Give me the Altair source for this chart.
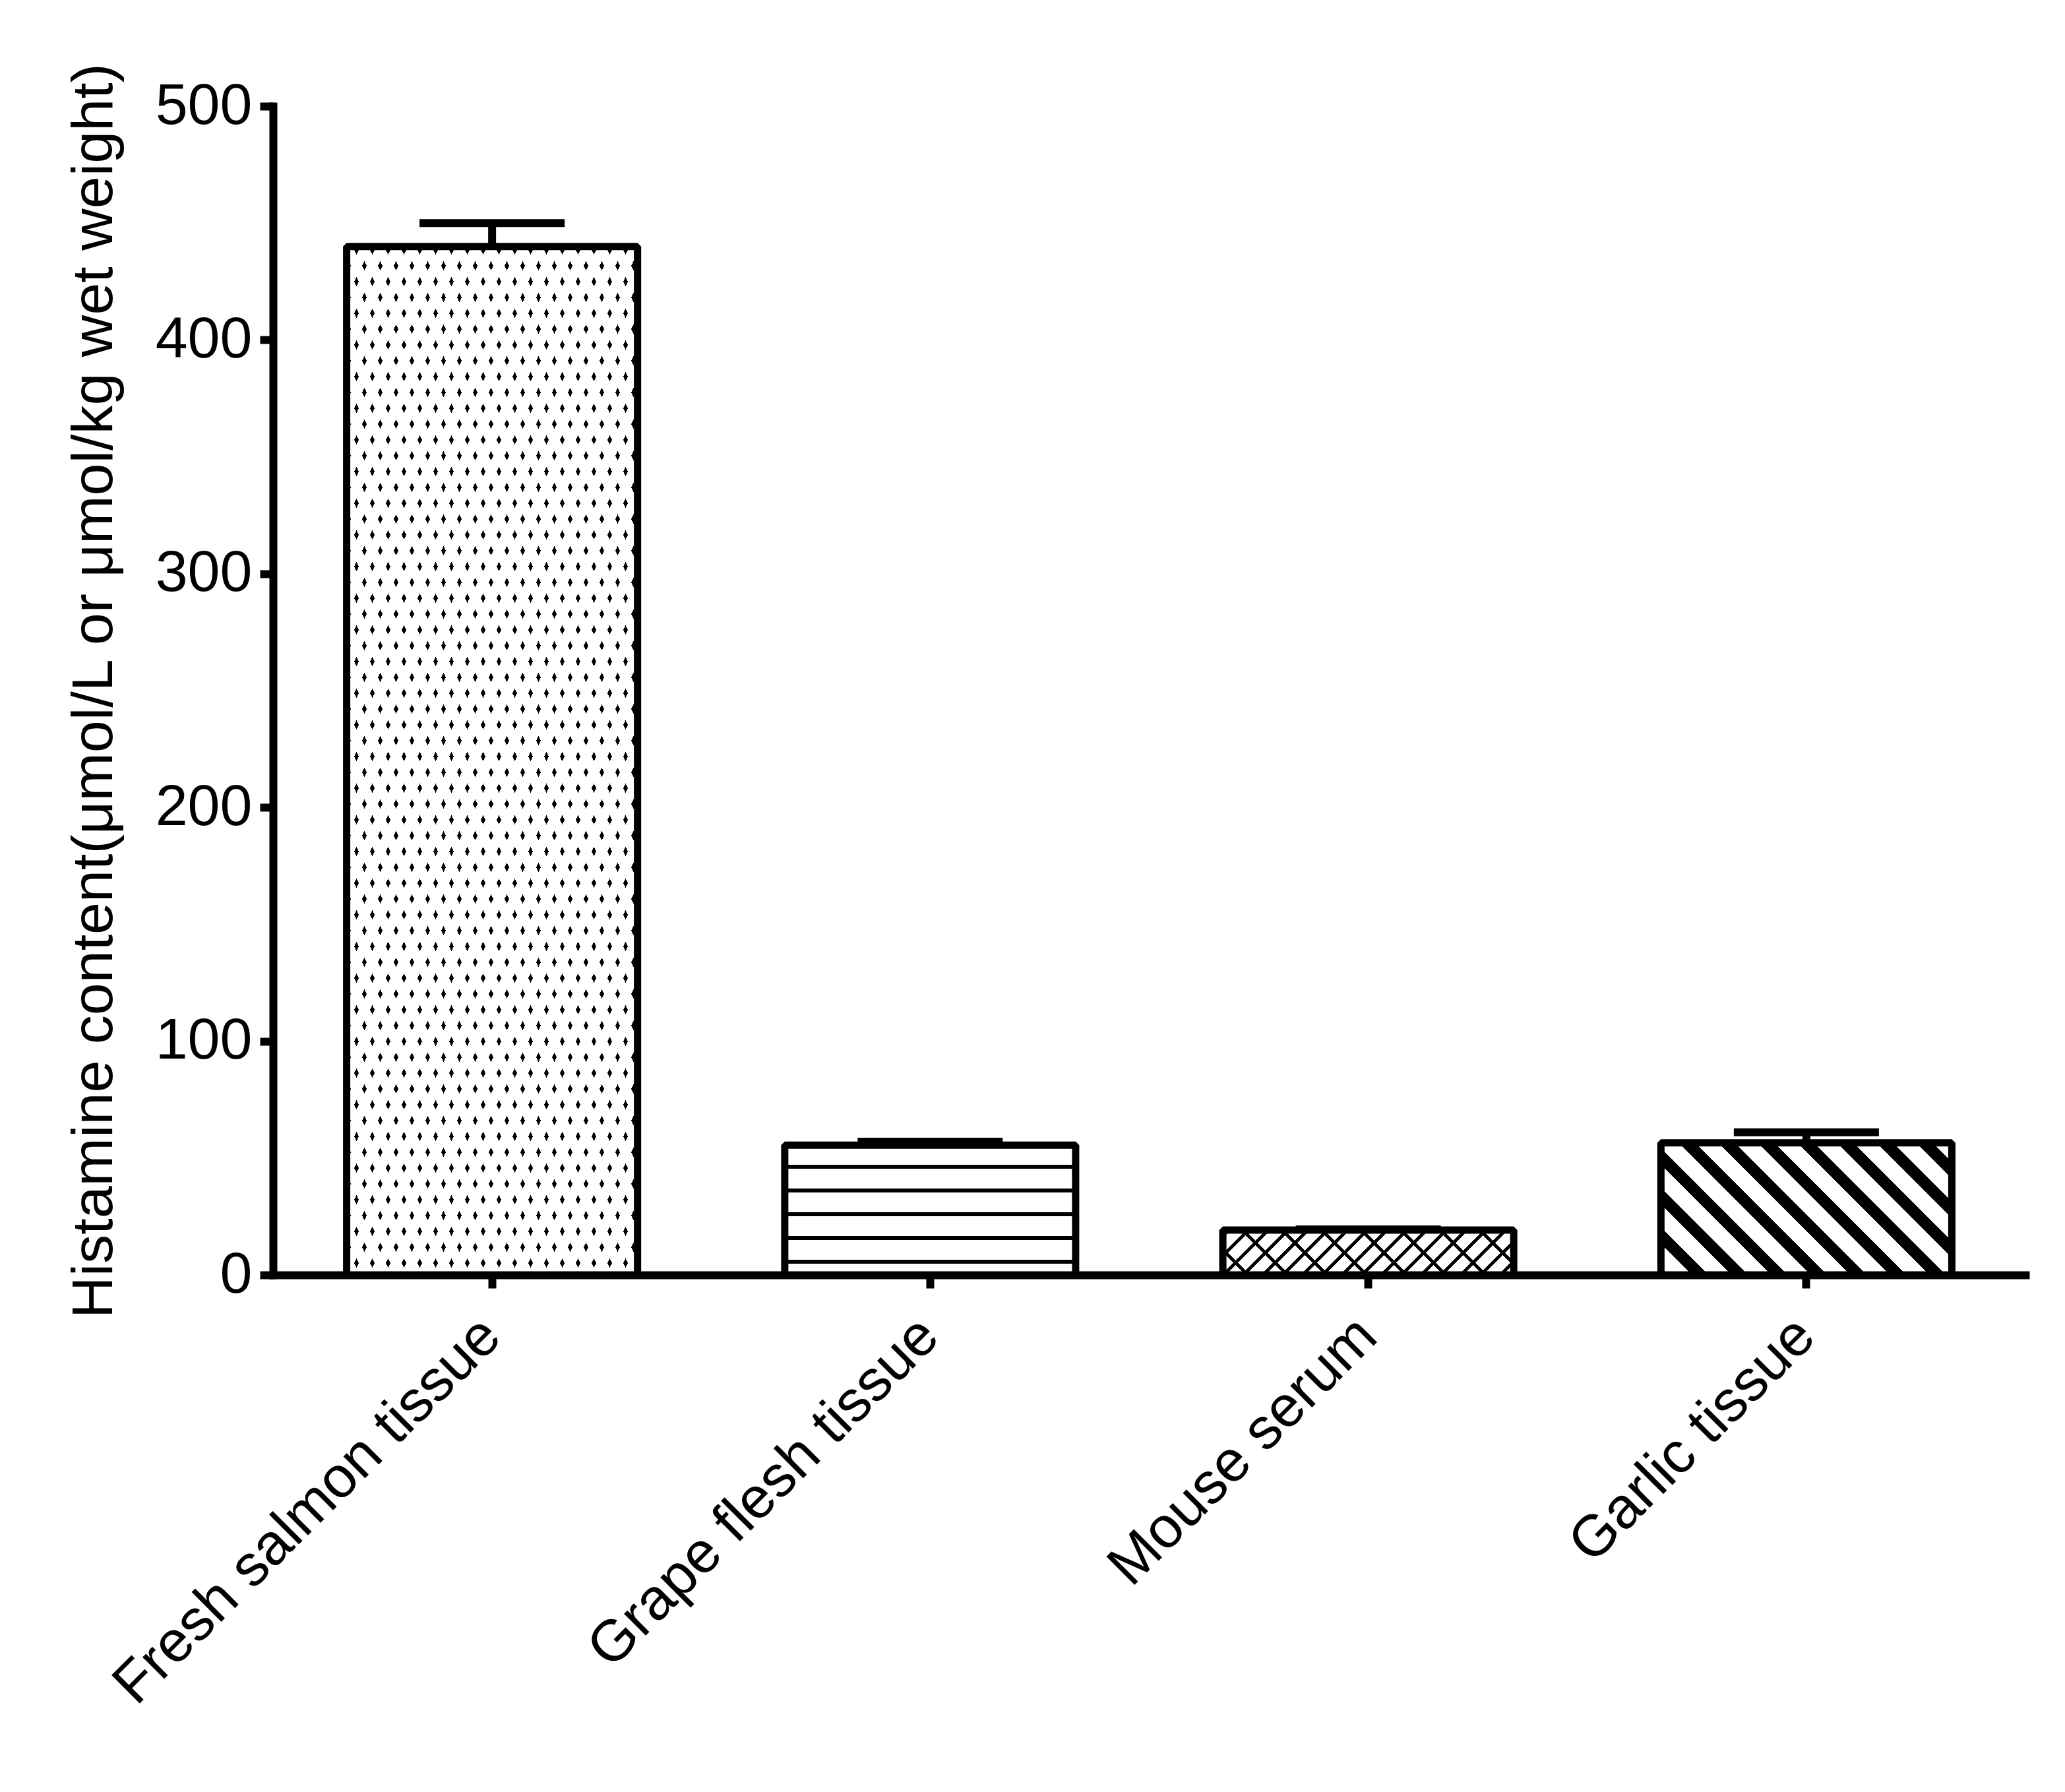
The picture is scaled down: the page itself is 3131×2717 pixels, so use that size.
import math
import altair as alt
import pandas as pd

categories = ["Fresh salmon tissue", "Grape flesh tissue", "Mouse serum", "Garlic tissue"]
means = [440, 55.5, 19.2, 56.5]
errors = [10, 1.5, 0.3, 4.5]
y_ticks = [0, 100, 200, 300, 400, 500]

df = pd.DataFrame({"cat": categories, "mean": means, "err": errors})
df["upper"] = df["mean"] + df["err"]

W, H = 2657, 1772
Y_MAX = 500
PAD_IN, PAD_OUT = 0.336, 0.168
FONT = "Liberation Sans"
FS = 88

step = W / (len(categories) - PAD_IN + 2 * PAD_OUT)
bw = step * (1 - PAD_IN)


def bar_px(value):
    return bw, value / Y_MAX * H


def stripes(w, h, alpha, beta, phase, hw, fg="black", bg="white"):
    """Linear gradient producing parallel stripes where alpha*x+beta*y is near phase+k."""
    A, B = alpha * w, beta * h
    vals = [0, A, B, A + B]
    fmin, fmax = min(vals), max(vals)
    R = fmax - fmin
    n2 = A * A + B * B
    S = (0.0 if A >= 0 else 1.0, 0.0 if B >= 0 else 1.0)
    D = (A * R / n2, B * R / n2)
    E = (S[0] + D[0], S[1] + D[1])

    def col(f):
        d = abs((f - phase) - round(f - phase))
        return fg if d < hw else bg

    stops = [(0.0, col(fmin))]
    k0 = math.floor(fmin - phase) - 1
    k1 = math.ceil(fmax - phase) + 1
    for k in range(k0, k1 + 1):
        c = k + phase
        t0 = (c - hw - fmin) / R
        t1 = (c + hw - fmin) / R
        if t1 <= 0 or t0 >= 1:
            continue
        t0c, t1c = max(t0, 0.0), min(t1, 1.0)
        stops += [(t0c, bg), (t0c, fg), (t1c, fg), (t1c, bg)]
    stops.append((1.0, col(fmax)))
    return alt.LinearGradient(
        gradient="linear",
        x1=round(S[0], 6), y1=round(S[1], 6), x2=round(E[0], 6), y2=round(E[1], 6),
        stops=[alt.GradientStop(offset=round(o, 6), color=c) for o, c in stops],
    )


x_axis = alt.Axis(labelAngle=-45, labelPadding=28, labelOffset=-32, labelLimit=3000,
                  title=None, ticks=True)
y_axis = alt.Axis(values=y_ticks, labelPadding=12, titlePadding=48, grid=False)
X = alt.X("cat:N", sort=categories, axis=x_axis,
          scale=alt.Scale(paddingInner=PAD_IN, paddingOuter=PAD_OUT))
Y_TITLE = "Histamine content(\u03bcmol/L or \u03bcmol/kg wet weight)"


def Ymean():
    return alt.Y("mean:Q", title=Y_TITLE, axis=y_axis,
                 scale=alt.Scale(domain=[0, Y_MAX], nice=False, zero=True))


base = alt.Chart(df)


def only(i):
    return base.transform_filter(alt.datum.cat == categories[i])


layers = []

# Fresh salmon tissue: staggered dots (intersection of two diagonal stripe families)
w0, h0 = bar_px(means[0])
x0, yb = 15, h0 - 18
ga = stripes(w0, h0, 1 / 24, -1 / 48, (x0 / 24 - yb / 48) % 1, 0.14)
gb = stripes(w0, h0, 1 / 24, 1 / 48, (x0 / 24 + yb / 48) % 1, 0.14)
layers.append(only(0).mark_bar(fill=ga).encode(x=X, y=Ymean()))
layers.append(only(0).mark_bar(fill=gb, blend="screen").encode(x=X, y=Ymean()))

# Grape flesh tissue: horizontal lines
w1, h1 = bar_px(means[1])
gh = stripes(w1, h1, 0, 1 / 36, ((h1 - 20) / 36) % 1, 3 / 36)
layers.append(only(1).mark_bar(fill=gh).encode(x=X, y=Ymean()))

# Mouse serum: crosshatch
w2, h2 = bar_px(means[2])
gm1 = stripes(w2, h2, 1 / 30, 1 / 30, 0.3, 0.117)
gm2 = stripes(w2, h2, 1 / 60, -1 / 60, 0.5, 0.06)
layers.append(only(2).mark_bar(fill=gm1).encode(x=X, y=Ymean()))
layers.append(only(2).mark_bar(fill=gm2, blend="multiply").encode(x=X, y=Ymean()))

# Garlic tissue: wide diagonal stripes
w3, h3 = bar_px(means[3])
gg = stripes(w3, h3, 1 / 60, -1 / 60, 0.66, 0.208)
layers.append(only(3).mark_bar(fill=gg).encode(x=X, y=Ymean()))

# outlines
outline = base.mark_bar(fillOpacity=0, stroke="black", strokeWidth=11,
                        strokeJoin="bevel").encode(x=X, y=Ymean())
layers.append(outline)

# error bars (upper only)
err_rule = base.mark_rule(color="black", strokeWidth=12, opacity=1).encode(
    x=X, y=Ymean(), y2="upper:Q")
err_cap = base.mark_tick(color="black", thickness=12, size=220, orient="horizontal",
                         opacity=1).encode(
    x=X, y=alt.Y("upper:Q", title=Y_TITLE, axis=y_axis,
                 scale=alt.Scale(domain=[0, Y_MAX], nice=False, zero=True)))
layers += [err_rule, err_cap]

chart = alt.layer(*layers).properties(
    width=W, height=H,
    autosize=alt.AutoSizeParams(type="none"),
    padding={"left": 406, "top": 153, "right": 40, "bottom": 760},
    background="white",
).configure_view(strokeWidth=0).configure_axis(
    labelFont=FONT, labelFontSize=FS, labelColor="black",
    titleFont=FONT, titleFontSize=FS, titleFontWeight="normal", titleColor="black",
    domainColor="black", domainWidth=12, domainCap="square",
    tickColor="black", tickWidth=12, tickSize=20, grid=False,
)

chart.save("out.html", embed_options={"renderer": "svg", "actions": False})
